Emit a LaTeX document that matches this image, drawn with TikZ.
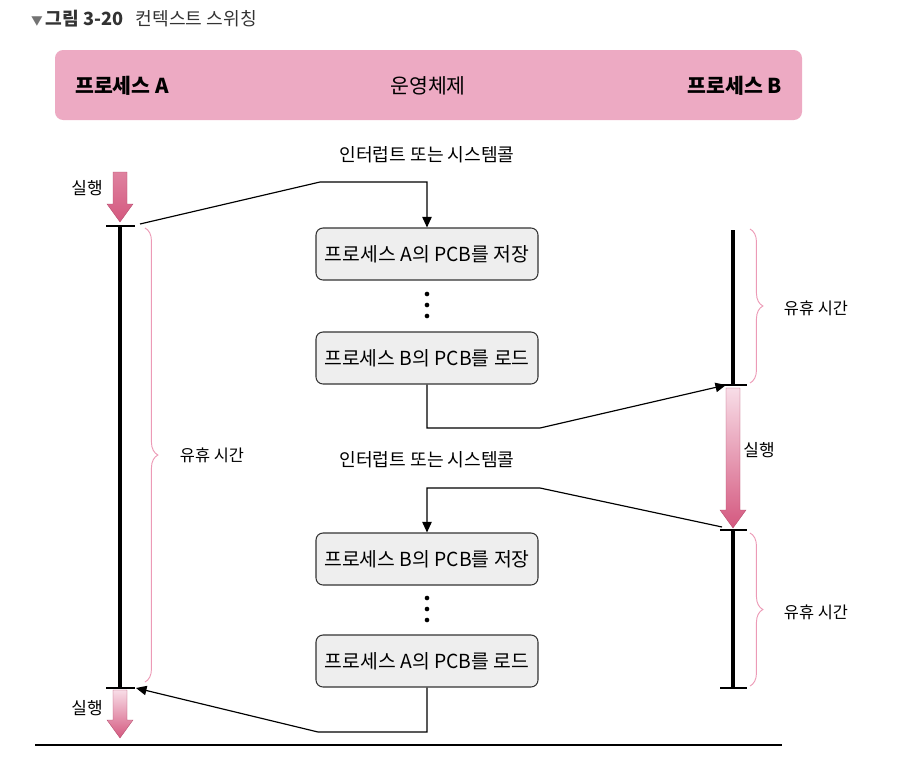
\documentclass[tikz,border=0pt]{standalone}
\usepackage{fontspec}
\setmainfont{Noto Sans CJK KR}
\usepackage{tikz}
\usetikzlibrary{arrows.meta,positioning,calc,decorations.pathreplacing}
\usepackage{xcolor}
\definecolor{bannerpink}{HTML}{EDAAC3}
\definecolor{arrowpink}{HTML}{D4587F}
\definecolor{lightpink}{HTML}{F8DDE7}
\definecolor{bracepink}{HTML}{EC9AB6}
\definecolor{boxgray}{HTML}{EEEEEE}
\newcommand{\fsz}[1]{\fontsize{#1}{#1}\selectfont}
% pink block arrow: x, y top, y tip, top colour
\newcommand{\runarrow}[4]{%
  \path[top color=#4, bottom color=arrowpink, draw=arrowpink!85!black, line width=0.3pt]
    (#1-7,#2) -- (#1+7,#2) -- (#1+7,#3-18) -- (#1+13,#3-18) -- (#1,#3)
    -- (#1-13,#3-18) -- (#1-7,#3-18) -- cycle;}

\begin{document}
\begin{tikzpicture}[
  x=0.03cm, y=-0.03cm,
  stepbox/.style={draw=black!80, fill=boxgray, rounded corners=6pt, line width=0.9pt,
    minimum width=222*0.03cm, minimum height=52*0.03cm, font=\fsz{16.5}},
  lbl/.style={font=\fsz{14}},
  runlbl/.style={font=\fsz{14.5}},
  irqlbl/.style={font=\fsz{15.5}},
  timeline/.style={line width=3pt},
  tick/.style={line width=1.3pt},
  linkarrow/.style={line width=1pt, -{Triangle[length=9pt,width=8pt]}},
  idle/.style={bracepink, line width=0.8pt, decorate, decoration={brace, amplitude=11pt}},
  dot/.style={circle, fill=black, inner sep=1.4pt}
]
\useasboundingbox (0,0) rectangle (898,782);

% 제목
\node[anchor=west, text=black!80, font=\fsz{15.5}] (title) at (27,19)
  {{\color{black!55}\fsz{10}▼}\,{\bfseries 그림 3-20}\;\, 컨텍스트 스위칭};

% 상단 띠
\fill[bannerpink, rounded corners=7pt] (55,50) rectangle (802,120);
\node[font=\fsz{17.5}\bfseries] (procA) at (122,86) {프로세스 A};
\node[font=\fsz{17.5}] (os) at (428,86) {운영체제};
\node[font=\fsz{17.5}\bfseries] (procB) at (735,86) {프로세스 B};

% 프로세스 A 타임라인
\runarrow{120}{172}{222}{arrowpink!75}
\node[runlbl] (runA1) at (87,188) {실행};
\coordinate (aTop) at (120,226);
\coordinate (aBot) at (120,688);
\draw[timeline] (aTop) -- (aBot);
\draw[tick] ($(aTop)+(-14,0)$) -- ($(aTop)+(15,0)$);
\draw[tick] ($(aBot)+(-14,0)$) -- ($(aBot)+(15,0)$);
\runarrow{120}{690}{738}{lightpink}
\node[runlbl] (runA2) at (87,708) {실행};
\draw[idle] (145,228) -- (145,682);
\node[lbl] (idleA) at (212,455) {유휴 시간};

% 운영체제
\node[irqlbl] (irq1) at (427,155) {인터럽트 또는 시스템콜};
\node[stepbox] (saveA) at (427,254) {프로세스 A의 PCB를 저장};
\node[dot] at (427,294) {};
\node[dot] at (427,305) {};
\node[dot] at (427,316) {};
\node[stepbox] (loadB) at (427,358) {프로세스 B의 PCB를 로드};
\node[irqlbl] (irq2) at (427,460) {인터럽트 또는 시스템콜};
\node[stepbox] (saveB) at (427,559) {프로세스 B의 PCB를 저장};
\node[dot] at (427,598) {};
\node[dot] at (427,609) {};
\node[dot] at (427,620) {};
\node[stepbox] (loadA) at (427,661) {프로세스 A의 PCB를 로드};

% 프로세스 B 타임라인
\coordinate (bTop) at (733,230);
\coordinate (bRun) at (733,385);
\coordinate (bStop) at (733,530);
\coordinate (bBot) at (733,688);
\draw[timeline] (bTop) -- (bRun);
\draw[timeline] (bStop) -- (bBot);
\draw[tick] ($(bRun)+(-13,0)$) -- ($(bRun)+(14,0)$);
\draw[tick] ($(bStop)+(-13,0)$) -- ($(bStop)+(14,0)$);
\draw[tick] ($(bBot)+(-13,0)$) -- ($(bBot)+(14,0)$);
\runarrow{733}{388}{528}{lightpink}
\node[runlbl] (runB) at (759,450) {실행};
\draw[idle] (750,229) -- (750,383);
\node[lbl] (idleB1) at (816,308) {유휴 시간};
\draw[idle] (750,533) -- (750,686);
\node[lbl] (idleB2) at (816,612) {유휴 시간};

% 전환 화살표
\coordinate (aOut) at (140,224);
\coordinate (bIn) at (726,385);
\coordinate (bOut) at (722,527);
\coordinate (aIn) at (136,688);
\draw[linkarrow] (aOut) -- (320,182) -| (saveA.north);
\draw[linkarrow] (loadB.south) |- (540,428) -- (bIn);
\draw[linkarrow] (bOut) -- (540,488) -| (saveB.north);
\draw[linkarrow] (loadA.south) |- (318,732) -- (aIn);

% 하단 선
\draw[line width=1.2pt] (35,745) -- (782,745);
\end{tikzpicture}
\end{document}
